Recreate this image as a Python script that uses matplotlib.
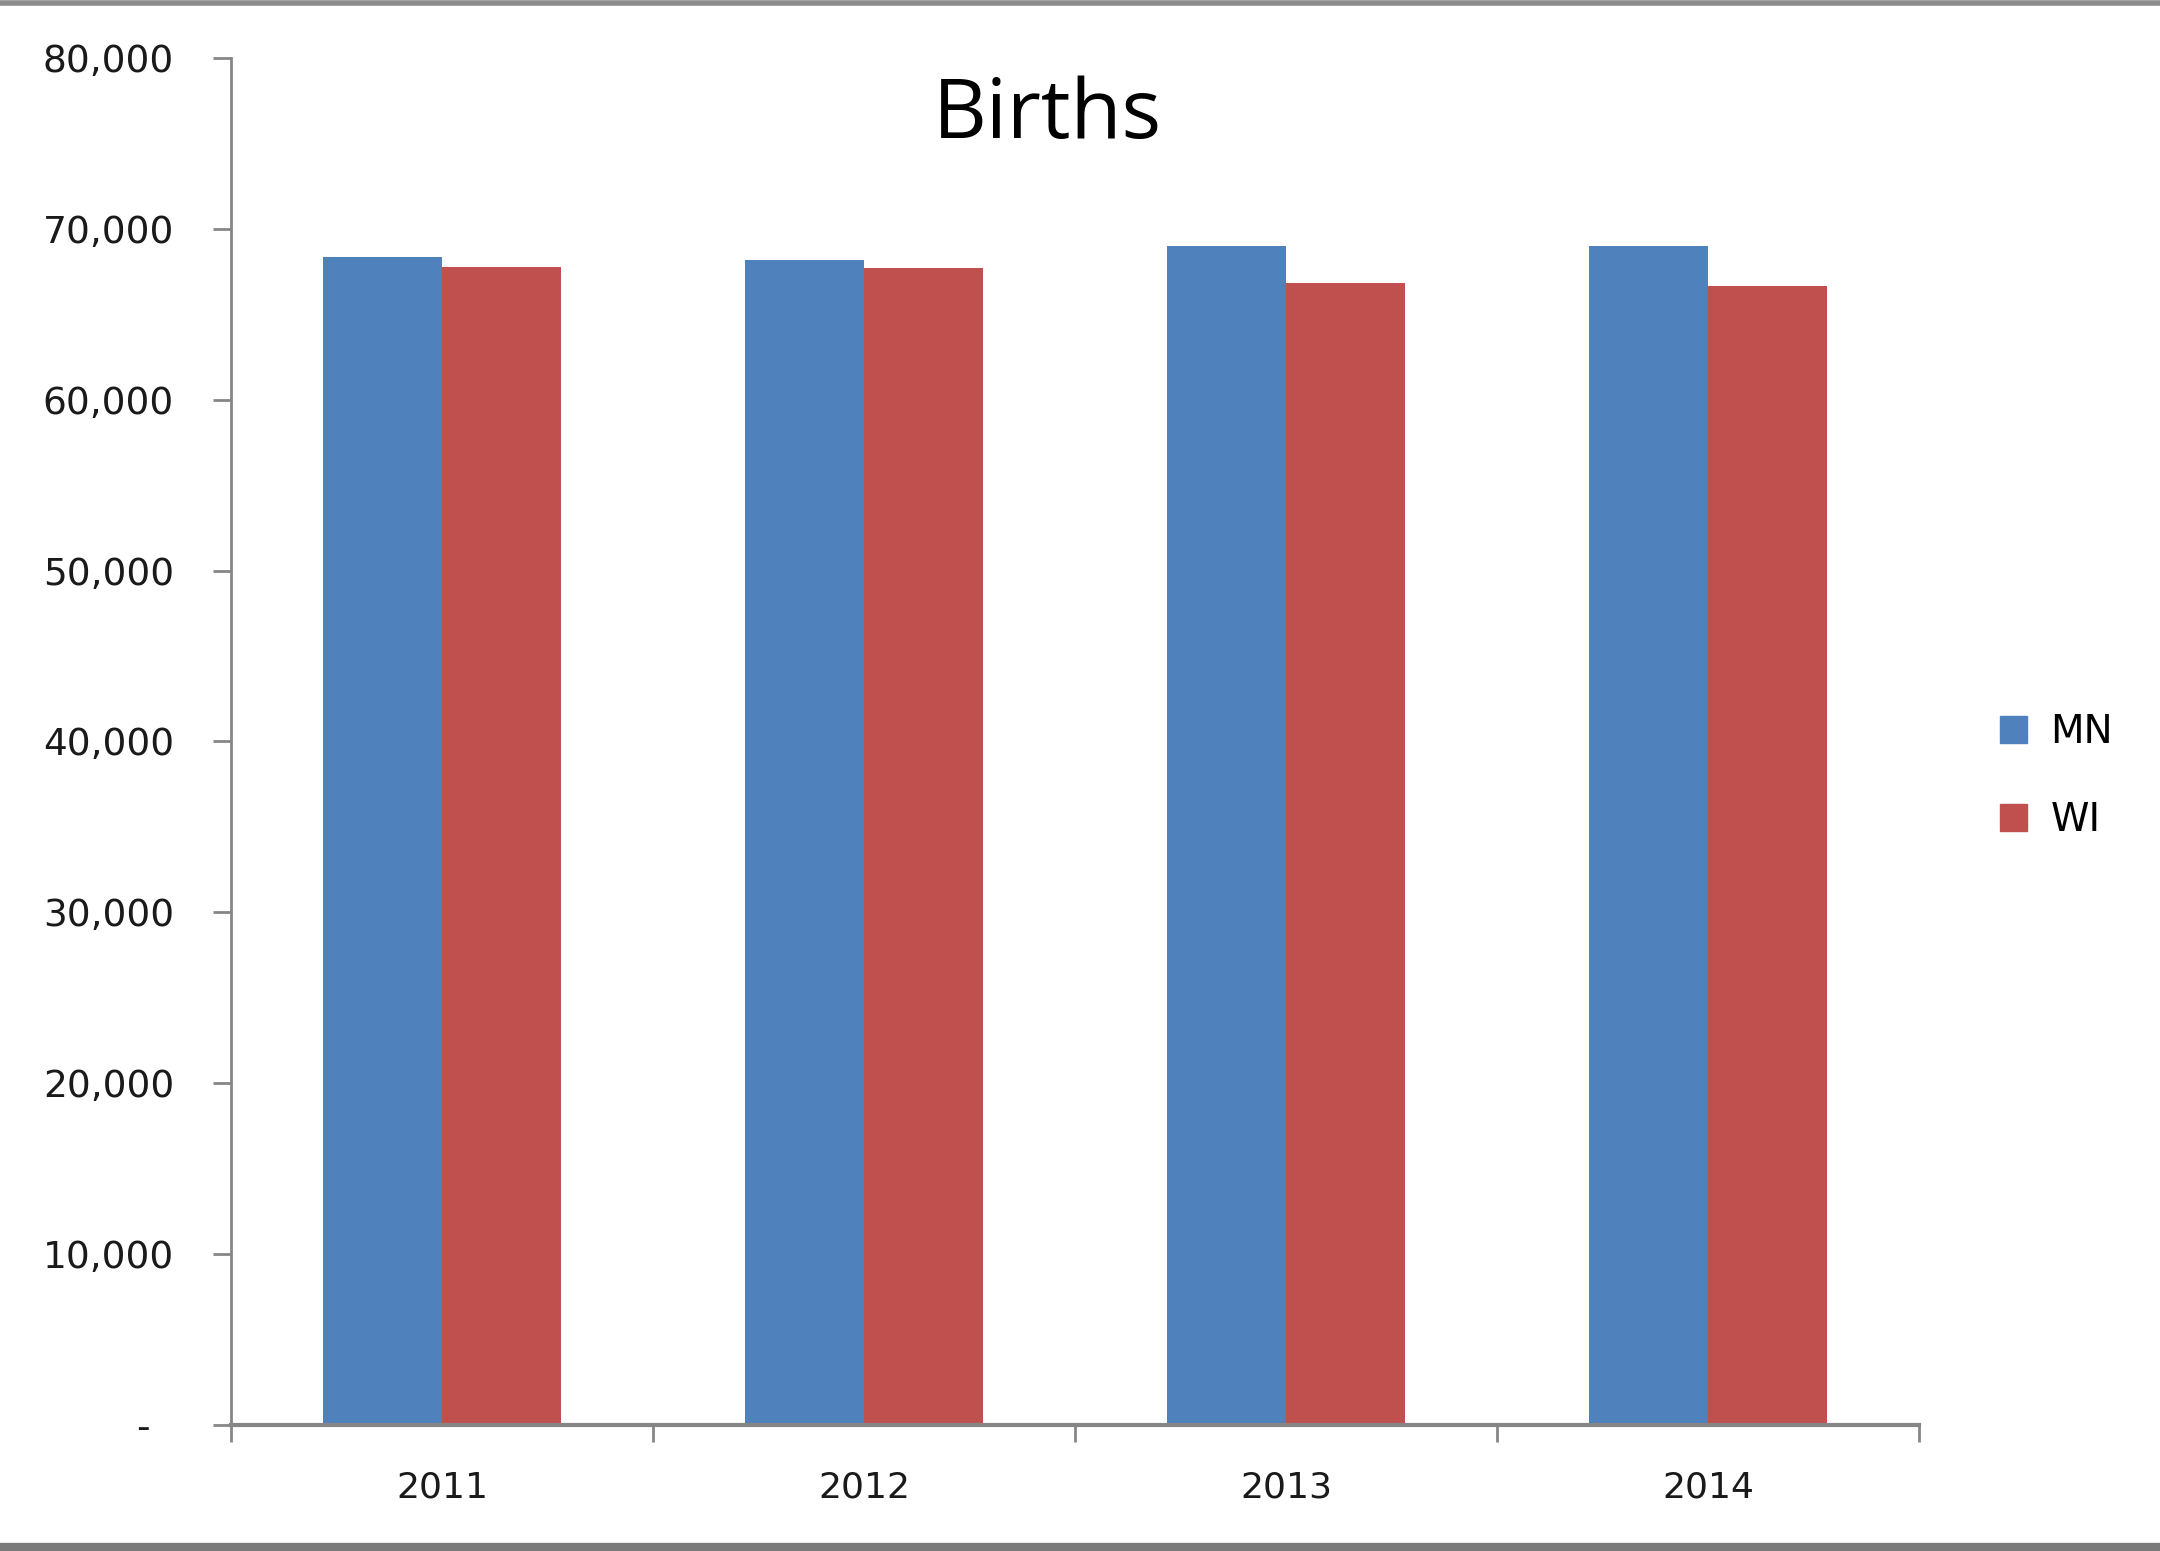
import matplotlib
matplotlib.use("Agg")
import matplotlib.pyplot as plt
from matplotlib.lines import Line2D
from matplotlib.patches import Patch
import numpy as np

years = ["2011", "2012", "2013", "2014"]
mn_births = [68380, 68150, 69000, 69000]
wi_births = [67740, 67700, 66860, 66630]
series_names = ["MN", "WI"]
yticks = [0, 10000, 20000, 30000, 40000, 50000, 60000, 70000, 80000]
ytick_labels = ["-  ", "10,000", "20,000", "30,000", "40,000", "50,000", "60,000", "70,000", "80,000"]

BLUE = "#4F81BD"
RED = "#C0504D"
AXC = "#868686"

fig = plt.figure(figsize=(21.6, 15.51), dpi=100)
ax = fig.add_axes([231/2160, 1 - 1425/1551, (1919-231)/2160, (1425-58)/1551])

x = np.arange(len(years))
w = 0.283
ax.bar(x - w/2, mn_births, width=w, color=BLUE, label=series_names[0], zorder=2)
ax.bar(x + w/2, wi_births, width=w, color=RED, label=series_names[1], zorder=2)

ax.set_xlim(-0.5, len(years) - 0.5)
ax.set_ylim(0, 80000)

for s in ["top", "right"]:
    ax.spines[s].set_visible(False)
ax.spines["left"].set_color(AXC)
ax.spines["left"].set_linewidth(2)
ax.spines["bottom"].set_color(AXC)
ax.spines["bottom"].set_linewidth(3)

ax.set_yticks(yticks)
ax.set_yticklabels(ytick_labels)
ax.tick_params(axis="y", length=13, width=2, color=AXC, pad=28, labelsize=27, labelcolor="#1a1a1a")

ax.set_xticks(np.arange(len(years) + 1) - 0.5)
ax.set_xticklabels([])
ax.tick_params(axis="x", which="major", length=12, width=2, color=AXC)
ax.set_xticks(x, minor=True)
ax.set_xticklabels(years, minor=True)
ax.tick_params(axis="x", which="minor", length=0, pad=33, labelsize=26, labelcolor="#1a1a1a")

fig.text(1047/2160, 1 - 117/1551, "Births", ha="center", va="center",
         fontsize=60, family="Open Sans", color="black")

handles = [Patch(facecolor=BLUE, edgecolor=BLUE), Patch(facecolor=RED, edgecolor=RED)]
leg = fig.legend(handles, series_names, loc="center left",
                 bbox_to_anchor=(1965/2160, 1 - 776/1551), frameon=False,
                 fontsize=28, handlelength=0.7, handleheight=0.7,
                 handletextpad=0.6, labelspacing=1.3)

# outer frame lines (top and bottom)
fig.add_artist(Line2D([0, 1], [1 - 3/1551, 1 - 3/1551], color="#8c8c8c", lw=4, transform=fig.transFigure))
fig.add_artist(Line2D([0, 1], [4/1551, 4/1551], color="#7a7a7a", lw=6, transform=fig.transFigure))

fig.savefig("out.png", dpi=100)
